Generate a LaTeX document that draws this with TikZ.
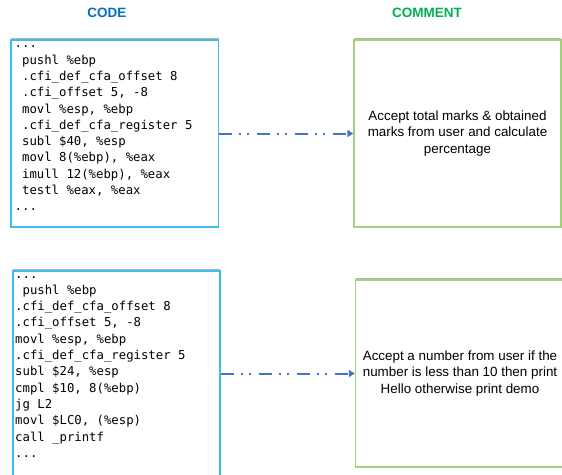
\documentclass[tikz,border=0pt]{standalone}
\usepackage{fontspec}
\setmainfont{Liberation Sans}
\newfontfamily\codefont{DejaVu Sans Mono}
\usetikzlibrary{arrows.meta,shadows}
\definecolor{codeblue}{HTML}{0070C0}
\definecolor{commgreen}{HTML}{00B050}
\definecolor{codeframe}{HTML}{3DBDEB}
\definecolor{commframe}{HTML}{A3D07A}
\definecolor{flowblue}{HTML}{4472C4}
\newcommand{\cs}{\hspace*{0.602em}}
\tikzset{
  header/.style={font=\fontsize{13.5}{16}\selectfont\bfseries, inner sep=0pt},
  codebox/.style={draw=codeframe, line width=1.5pt, fill=white, inner sep=0pt,
    drop shadow={shadow xshift=0pt, shadow yshift=1.6pt, fill=gray!60, opacity=1}},
  commbox/.style={draw=commframe, line width=1.5pt, fill=white, inner sep=0pt,
    align=center, font=\fontsize{13.4}{16.4}\selectfont,
    drop shadow={shadow xshift=0pt, shadow yshift=1.6pt, fill=gray!60, opacity=1}},
  codetext/.style={anchor=base west, inner sep=0pt, align=left, text width=200pt,
    font=\codefont\fontsize{12.3}{16.3}\selectfont},
  flow/.style={draw=flowblue, line width=2pt,
    dash pattern=on 13pt off 7pt on 2pt off 6pt on 2pt off 8pt,
    -{Triangle[length=6pt,width=7pt]}}
}
\begin{document}
\begin{tikzpicture}[x=1pt,y=-1pt]
\useasboundingbox (0,0) rectangle (562,474);
\clip (0,0) rectangle (562,474);
% headers
\node[header, text=codeblue] (hcode) at (107,12.5) {CODE};
\node[header, text=commgreen] (hcomm) at (427,12.5) {COMMENT};
% boxes
\node[codebox, minimum width=207.5pt, minimum height=187pt] (code1) at (114.75,133.5) {};
\node[commbox, minimum width=207pt, minimum height=187pt] (comm1) at (457.5,133.5)
  {Accept total marks \& obtained\\marks from user and calculate\\percentage};
\node[codebox, minimum width=207pt, minimum height=206pt] (code2) at (116.5,374) {};
\node[commbox, minimum width=209pt, minimum height=187pt] (comm2) at (460,373.5)
  {Accept a number from user if the\\number is less than 10 then print\\Hello otherwise print demo};
% code text
\node[codetext] (c1) at (14.5,47.8) {%
...\\
\cs pushl\cs\%ebp\\
\cs .cfi\_def\_cfa\_offset\cs 8\\
\cs .cfi\_offset\cs 5,\cs -8\\
\cs movl\cs\%esp,\cs\%ebp\\
\cs .cfi\_def\_cfa\_register\cs 5\\
\cs subl\cs\$40,\cs\%esp\\
\cs movl\cs 8(\%ebp),\cs\%eax\\
\cs imull\cs 12(\%ebp),\cs\%eax\\
\cs testl\cs\%eax,\cs\%eax\\
...};
\node[codetext] (c2) at (15,278) {%
...\\
\cs pushl\cs\%ebp\\
.cfi\_def\_cfa\_offset\cs 8\\
.cfi\_offset\cs 5,\cs -8\\
movl\cs\%esp,\cs\%ebp\\
.cfi\_def\_cfa\_register\cs 5\\
subl\cs\$24,\cs\%esp\\
cmpl\cs\$10,\cs 8(\%ebp)\\
jg\cs L2\\
movl\cs\$LC0,\cs(\%esp)\\
call\cs\_printf\\
...};
% connectors
\draw[flow] (code1.east) -- (comm1.west);
\draw[flow] (code2.east |- comm2.west) -- (comm2.west);
\end{tikzpicture}
\end{document}
